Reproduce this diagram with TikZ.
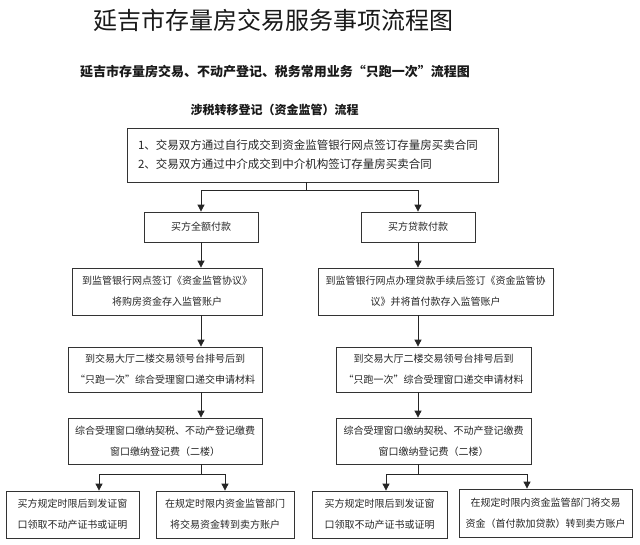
\documentclass[tikz,border=0pt]{standalone}
\usepackage{fontspec}
\setmainfont{Noto Sans CJK SC}
\usetikzlibrary{arrows.meta}
\begin{document}
\begin{tikzpicture}[x=1pt,y=-1pt,
  box/.style={draw=black!80, line width=0.8pt, inner sep=0pt, align=center,
    font=\fontsize{10}{21}\selectfont, text=black!85},
  ttl/.style={inner sep=0pt, text=black!90},
  arr/.style={-{Triangle[length=7pt,width=7pt]}, line width=0.8pt, draw=black!85},
  ln/.style={line width=0.8pt, draw=black!85}]
\useasboundingbox (0,0) rectangle (640,544);
\fill[white] (0,0) rectangle (640,544);

% titles
\node[ttl, font=\fontsize{24}{24}\selectfont] (title) at (273,20) {延吉市存量房交易服务事项流程图};
\node[ttl, font=\bfseries\fontsize{13}{13}\selectfont] (sub1) at (275,72) {延吉市存量房交易、不动产登记、税务常用业务“只跑一次”流程图};
\node[ttl, font=\bfseries\fontsize{12}{12}\selectfont] (sub2) at (274.5,110) {涉税转移登记（资金监管）流程};

% top box
\node[box, minimum width=371, minimum height=54, text width=349, align=left,
  font=\fontsize{11.5}{19}\selectfont] (top) at (312.5,155)
  {1、交易双方通过自行成交到资金监管银行网点签订存量房买卖合同\\2、交易双方通过中介成交到中介机构签订存量房买卖合同};

% left column
\node[box, minimum width=114, minimum height=30] (L1) at (201,227) {买方全额付款};
\node[box, minimum width=190, minimum height=47] (L2) at (167,291.5) {到监管银行网点签订《资金监管协议》\\将购房资金存入监管账户};
\node[box, minimum width=194, minimum height=45] (L3) at (165,369.5) {到交易大厅二楼交易领号台排号后到\\“只跑一次”综合受理窗口递交申请材料};
\node[box, minimum width=194, minimum height=46] (L4) at (165,441) {综合受理窗口缴纳契税、不动产登记缴费\\窗口缴纳登记费（二楼）};
\node[box, minimum width=133, minimum height=47] (L5) at (72.5,514.5) {买方规定时限后到发证窗\\口领取不动产证书或证明};
\node[box, minimum width=138, minimum height=47] (L6) at (225,514.5) {在规定时限内资金监管部门\\将交易资金转到卖方账户};

% right column
\node[box, minimum width=114, minimum height=30] (R1) at (418,227) {买方贷款付款};
\node[box, minimum width=235, minimum height=47] (R2) at (435.5,291.5) {到监管银行网点办理贷款手续后签订《资金监管协\\议》并将首付款存入监管账户};
\node[box, minimum width=195, minimum height=45] (R3) at (433.5,369.5) {到交易大厅二楼交易领号台排号后到\\“只跑一次”综合受理窗口递交申请材料};
\node[box, minimum width=195, minimum height=46] (R4) at (433.5,441) {综合受理窗口缴纳契税、不动产登记缴费\\窗口缴纳登记费（二楼）};
\node[box, minimum width=135, minimum height=47] (R5) at (379.5,514.5) {买方规定时限后到发证窗\\口领取不动产证书或证明};
\node[box, minimum width=173, minimum height=48] (R6) at (545.5,513) {在规定时限内资金监管部门将交易\\资金（首付款加贷款）转到卖方账户};

% top branch
\coordinate (tj) at (306,190);
\draw[ln] (tj |- top.south) -- (tj);
\draw[arr] (tj) -| (L1.north);
\draw[arr] (tj) -| (R1.north);

% left spine
\draw[arr] (L1.south) -- (L1.south |- L2.north);
\draw[arr] (L1.south |- L2.south) -- (L1.south |- L3.north);
\draw[arr] (L1.south |- L3.south) -- (L1.south |- L4.north);
\coordinate (lja) at (99,474);
\coordinate (ljb) at (225,474);
\draw[ln] (L1.south |- L4.south) -- (L1.south |- lja);
\draw[ln] (lja) -- (ljb);
\draw[arr] (lja) -- (lja |- L5.north);
\draw[arr] (ljb) -- (ljb |- L6.north);

% right spine
\draw[arr] (R1.south) -- (R1.south |- R2.north);
\draw[arr] (R1.south |- R2.south) -- (R1.south |- R3.north);
\draw[arr] (R1.south |- R3.south) -- (R1.south |- R4.north);
\coordinate (rja) at (386,474);
\coordinate (rjb) at (527,474);
\draw[ln] (R1.south |- R4.south) -- (R1.south |- rja);
\draw[ln] (rja) -- (rjb);
\draw[arr] (rja) -- (rja |- R5.north);
\draw[arr] (rjb) -- (rjb |- R6.north);
\end{tikzpicture}
\end{document}
